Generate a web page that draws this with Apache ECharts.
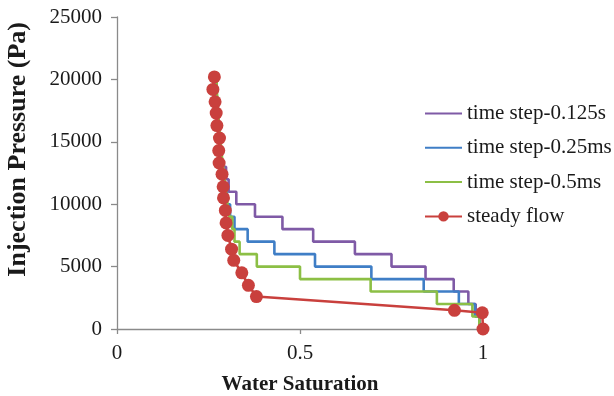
<!DOCTYPE html>
<html>
<head>
<meta charset="utf-8">
<script src="https://cdn.jsdelivr.net/npm/echarts@6/dist/echarts.min.js"></script>
<style>
  html, body { margin: 0; padding: 0; background: #fff; }
  #chart { width: 614px; height: 396px; }
</style>
</head>
<body>
<div id="chart"></div>
<script>
// Water saturation vs. injection pressure for three time steps and steady flow.
const seriesNames = ['time step-0.125s', 'time step-0.25ms', 'time step-0.5ms', 'steady flow'];

// Step curves: each pair gives the saturation at which a pressure level begins.
const pressureLevels = [20000, 19000, 18000, 17000, 16000, 15000, 14000, 13000, 12000, 11000,
                        10000, 9000, 8000, 7000, 6000, 5000, 4000, 3000, 2000, 1000, 0];

const satStep0125s = [0.272, 0.272, 0.274, 0.276, 0.279, 0.282, 0.284, 0.287, 0.298, 0.305,
                      0.326, 0.377, 0.452, 0.536, 0.650, 0.750, 0.843, 0.920, 0.960, 0.980, 0.990];

const satStep025ms = [0.270, 0.270, 0.272, 0.274, 0.277, 0.280, 0.283, 0.286, 0.290, 0.293,
                      0.300, 0.309, 0.321, 0.357, 0.430, 0.541, 0.695, 0.838, 0.934, 0.978, 0.990];

const satStep05ms = [0.272, 0.273, 0.275, 0.277, 0.280, 0.283, 0.286, 0.290, 0.294, 0.298,
                     0.302, 0.307, 0.315, 0.321, 0.335, 0.382, 0.500, 0.693, 0.874, 0.971, 0.990];

// Steady flow points.
const satSteady = [0.266, 0.262, 0.268, 0.271, 0.273, 0.280, 0.278, 0.279, 0.287, 0.290, 0.291,
                   0.296, 0.298, 0.303, 0.313, 0.319, 0.341, 0.359, 0.381, 0.922, 0.998, 1.0];
const presSteady = [20200, 19200, 18200, 17300, 16300, 15300, 14300, 13300, 12400, 11400, 10500,
                    9500, 8500, 7500, 6400, 5500, 4500, 3500, 2600, 1500, 1300, 0];

const xTicks = [0, 0.5, 1];
const yTicks = [0, 5000, 10000, 15000, 20000, 25000];

const colors = ['#7f5aa6', '#3f7ec6', '#8cbf45', '#c9403d'];

function pairs(xs, ys) { return xs.map((x, i) => [x, ys[i]]); }

const serif = '"Liberation Serif", "Times New Roman", serif';
const textColor = '#1a1a1a';
const axisColor = '#8a8a8a';

const chart = echarts.init(document.getElementById('chart'), null, { renderer: 'canvas' });

const stepSeries = [satStep0125s, satStep025ms, satStep05ms].map((sat, i) => ({
  name: seriesNames[i],
  type: 'line',
  step: 'end',
  showSymbol: false,
  symbol: 'none',
  data: pairs(sat, pressureLevels),
  lineStyle: { color: colors[i], width: 2.6 },
  itemStyle: { color: colors[i] },
  animation: false
}));

// Plain line keys for the step curves, line with a dot for steady flow.
const legendItems = seriesNames.map((name, i) => (i < 3
  ? { name, itemStyle: { color: 'rgba(0,0,0,0)', borderWidth: 0, opacity: 0 } }
  : { name }));

chart.setOption({
  backgroundColor: '#fff',
  animation: false,
  color: colors,
  grid: { left: 117, right: 131, top: 17, bottom: 67, containLabel: false, outerBoundsMode: 'none' },
  legend: {
    orient: 'vertical',
    left: 419,
    top: 98,
    itemWidth: 37,
    itemHeight: 13,
    itemGap: 13.3,
    data: legendItems,
    textStyle: { fontFamily: serif, fontSize: 21, color: textColor, lineHeight: 20 }
  },
  xAxis: {
    type: 'value',
    min: 0, max: 1, interval: 0.5,
    name: 'Water Saturation',
    nameLocation: 'middle',
    nameGap: 45,
    nameTextStyle: { fontFamily: serif, fontSize: 21, fontWeight: 'bold', color: textColor },
    axisLine: { show: true, lineStyle: { color: axisColor, width: 1.3 } },
    axisTick: { show: true, length: 5, lineStyle: { color: axisColor, width: 1.3 } },
    axisLabel: {
      fontFamily: serif, fontSize: 21, color: textColor, margin: 14,
      formatter: v => (xTicks.includes(v) ? String(v) : '')
    },
    splitLine: { show: false }
  },
  yAxis: {
    type: 'value',
    min: 0, max: 25000, interval: 5000,
    axisLine: { show: true, lineStyle: { color: axisColor, width: 1.3 } },
    axisTick: { show: true, length: 6, lineStyle: { color: axisColor, width: 1.3 } },
    axisLabel: {
      fontFamily: serif, fontSize: 21, color: textColor, margin: 15,
      formatter: v => (yTicks.includes(v) ? String(v) : '')
    },
    splitLine: { show: false }
  },
  graphic: [{
    type: 'text',
    left: 5,
    top: 22,
    rotation: Math.PI / 2,
    style: {
      text: 'Injection Pressure (Pa)',
      font: 'bold 26px ' + serif,
      fill: textColor
    }
  }],
  series: stepSeries.concat([{
    name: seriesNames[3],
    type: 'line',
    data: pairs(satSteady, presSteady),
    symbol: 'circle',
    symbolSize: 13,
    showSymbol: true,
    lineStyle: { color: colors[3], width: 2.6 },
    itemStyle: { color: colors[3] },
    animation: false
  }])
});
</script>
</body>
</html>
